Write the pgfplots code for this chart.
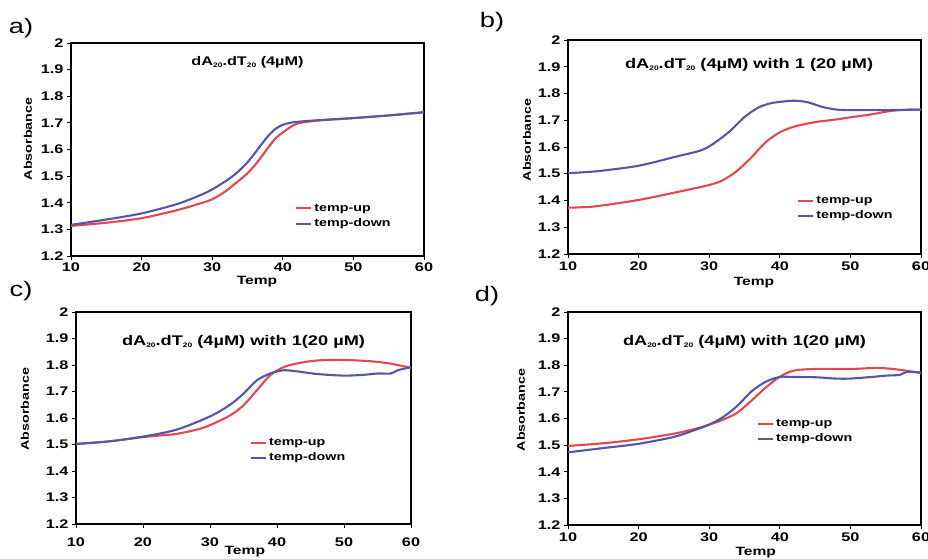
\documentclass[border=0pt]{standalone}
\usepackage{fontspec}
\setmainfont[FakeStretch=1.3]{Liberation Sans}
\usepackage{pgfplots}
\pgfplotsset{compat=1.18}

\definecolor{upred}{RGB}{226,72,80}
\definecolor{downblue}{RGB}{86,86,168}

\newcommand{\sub}[1]{\raisebox{-2pt}{\fontsize{6.5}{6.5}\selectfont #1}}

\pgfplotsset{
  panel/.style={
    scale only axis, width=353pt, height=213pt,
    xmin=10, xmax=60, ymin=1.2, ymax=2,
    xtick={10,20,30,40,50,60},
    ytick={1.2,1.3,1.4,1.5,1.6,1.7,1.8,1.9,2},
    yticklabel style={/pgf/number format/fixed,/pgf/number format/precision=1},
    /pgf/number format/assume math mode=true,
    tick label style={font=\bfseries\fontsize{12.5}{12.5}\selectfont},
    tick align=outside, xtick pos=left, ytick pos=left,
    major tick length=4pt,
    axis line style={line width=1.1pt},
    every tick/.style={line width=1pt,black},
    xlabel style={font=\bfseries\fontsize{12}{12}\selectfont, inner sep=0pt},
    ylabel style={font=\bfseries\fontsize{11}{11}\selectfont, inner sep=0pt},
    xlabel={Temp}, ylabel={Absorbance},
    legend style={draw=none, fill=none, font=\bfseries\fontsize{11}{12}\selectfont,
      inner sep=0pt, row sep=2pt, anchor=north west},
    legend cell align=left,
    legend image code/.code={\draw[#1,line width=2pt] (0pt,0pt) -- (15pt,0pt);},
    every axis plot/.append style={line width=2.1pt, smooth, no markers},
  },
}
\tikzset{ttl/.style={font=\bfseries\fontsize{14}{14}\selectfont, anchor=center},
  plab/.style={font=\fontsize{21}{21}\selectfont}}

\begin{document}
\begin{tikzpicture}[x=1pt,y=1pt]
\useasboundingbox (0,0) rectangle (928,558);

% a)
\node[plab] at (21,530) {a)};
\begin{axis}[panel, at={(71pt,302pt)}, anchor=south west, width=353pt, height=213pt,
  xlabel style={at={(axis description cs:0.527,0)}, anchor=north, yshift=-20pt},
  ylabel style={at={(axis description cs:0,0.55)}, anchor=center, yshift=43pt},
  xticklabel style={yshift=1pt},
  legend style={at={(0.635,0.254)}}]
\addplot[upred] coordinates {(10,1.313)(15,1.325)(20,1.342)(25,1.372)(28,1.395)(30,1.413)(32,1.445)(33,1.467)(34,1.488)(35,1.511)(36,1.540)(37,1.574)(38,1.610)(39,1.643)(40,1.664)(41,1.683)(42,1.697)(44,1.706)(46,1.711)(50,1.718)(55,1.728)(60,1.740)};
\addlegendentry{temp-up}
\addplot[downblue] coordinates {(10,1.317)(15,1.337)(20,1.360)(25,1.395)(28,1.425)(30,1.450)(32,1.483)(33,1.502)(34,1.525)(35,1.552)(36,1.585)(37,1.620)(38,1.653)(39,1.678)(40,1.693)(41,1.700)(42,1.704)(45,1.710)(50,1.718)(55,1.728)(60,1.740)};
\addlegendentry{temp-down}
\node[ttl, font=\bfseries\fontsize{12.5}{12.5}\selectfont] at (rel axis cs:0.5,0.911) {dA\sub{20}.dT\sub{20} (4µM)};
\end{axis}

% b)
\node[plab] at (492,536) {b)};
\begin{axis}[panel, at={(568pt,304pt)}, anchor=south west, width=353pt, height=214pt,
  xlabel style={at={(axis description cs:0.527,0)}, anchor=north, yshift=-23pt},
  ylabel style={at={(axis description cs:0,0.533)}, anchor=center, yshift=41pt},
  legend style={at={(0.649,0.280)}}]
\addplot[upred] coordinates {(10,1.373)(13,1.376)(15,1.382)(20,1.402)(25,1.429)(30,1.458)(32,1.477)(34,1.512)(36,1.562)(38,1.618)(40,1.655)(42,1.676)(45,1.693)(48,1.703)(50,1.711)(53,1.722)(55,1.732)(57,1.738)(60,1.740)};
\addlegendentry{temp-up}
\addplot[downblue] coordinates {(10,1.502)(13,1.507)(15,1.512)(20,1.530)(25,1.562)(29,1.589)(31,1.620)(33,1.661)(35,1.712)(37,1.748)(39,1.765)(42,1.773)(44,1.767)(46,1.750)(48,1.740)(50,1.738)(55,1.738)(60,1.740)};
\addlegendentry{temp-down}
\node[ttl] at (rel axis cs:0.513,0.883) {dA\sub{20}.dT\sub{20} (4µM) with 1 (20 µM)};
\end{axis}

% c)
\node[plab] at (21,267) {c)};
\begin{axis}[panel, at={(76pt,34pt)}, anchor=south west, width=335pt, height=212pt,
  xlabel style={at={(axis description cs:0.504,0)}, anchor=north, yshift=-22pt},
  ylabel style={at={(axis description cs:0,0.542)}, anchor=center, yshift=51pt},
  xticklabel style={yshift=-6pt},
  legend style={at={(0.519,0.415)}}]
\addplot[upred] coordinates {(10,1.502)(15,1.512)(20,1.528)(23,1.535)(25,1.540)(28,1.556)(30,1.573)(33,1.610)(35,1.648)(37,1.705)(39,1.762)(41,1.792)(43,1.806)(46,1.817)(50,1.819)(54,1.814)(57,1.805)(60,1.789)};
\addlegendentry{temp-up}
\addplot[downblue] coordinates {(10,1.502)(15,1.512)(20,1.530)(25,1.556)(30,1.606)(33,1.650)(35,1.692)(37,1.742)(39,1.768)(41,1.780)(43,1.776)(46,1.766)(50,1.760)(53,1.763)(55,1.768)(57,1.768)(58,1.780)(60,1.792)};
\addlegendentry{temp-down}
\node[ttl] at (rel axis cs:0.5,0.858) {dA\sub{20}.dT\sub{20} (4µM) with 1(20 µM)};
\end{axis}

% d)
\node[plab] at (487,262) {d)};
\begin{axis}[panel, at={(568pt,33pt)}, anchor=south west, width=353pt, height=213pt,
  xlabel style={at={(axis description cs:0.532,0)}, anchor=north, yshift=-22pt},
  ylabel style={at={(axis description cs:0,0.54)}, anchor=center, yshift=47pt},
  legend style={at={(0.535,0.507)}}]
\addplot[upred] coordinates {(10,1.497)(15,1.507)(20,1.522)(25,1.543)(28,1.561)(30,1.577)(32,1.596)(34,1.622)(36,1.668)(38,1.716)(40,1.757)(42,1.780)(45,1.786)(50,1.786)(54,1.790)(57,1.783)(60,1.771)};
\addlegendentry{temp-up}
\addplot[downblue] coordinates {(10,1.473)(15,1.489)(20,1.505)(25,1.531)(28,1.557)(30,1.577)(32,1.606)(34,1.648)(36,1.702)(38,1.738)(40,1.756)(42,1.756)(45,1.755)(48,1.750)(50,1.750)(53,1.756)(55,1.761)(57,1.764)(58,1.775)(60,1.773)};
\addlegendentry{temp-down}
\node[ttl] at (rel axis cs:0.5,0.859) {dA\sub{20}.dT\sub{20} (4µM) with 1(20 µM)};
\end{axis}
\end{tikzpicture}
\end{document}
